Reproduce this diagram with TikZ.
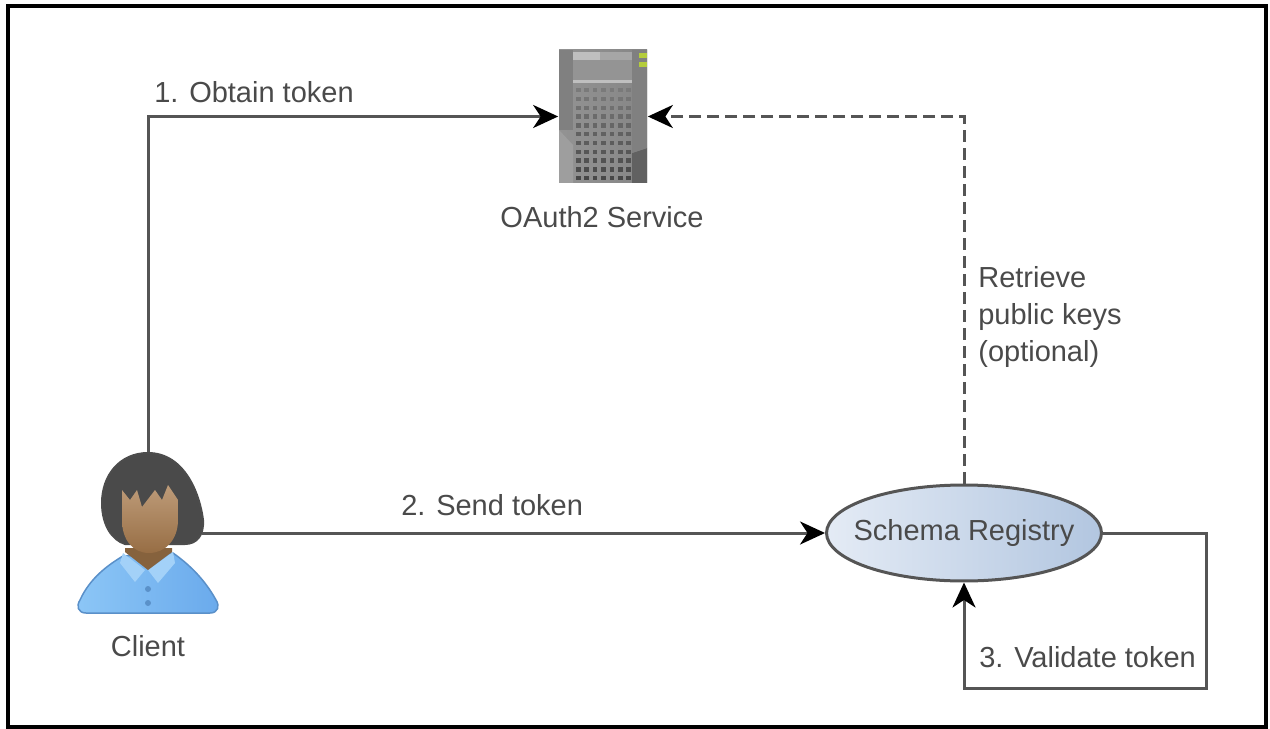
\documentclass[tikz,border=0pt]{standalone}
\usepackage{fontspec}
\setmainfont{Liberation Sans}
\usetikzlibrary{arrows.meta, positioning, shapes.geometric, calc}
\definecolor{CLine}{HTML}{555555}
\definecolor{CText}{HTML}{4A4A4A}
\definecolor{CHair}{HTML}{4A4A4A}
\definecolor{CSkin}{HTML}{A87A4C}
\definecolor{CShirtLight}{HTML}{8CC6F6}
\definecolor{CShirtDark}{HTML}{6AAAEC}
\definecolor{CRegLeft}{HTML}{E4EBF5}
\definecolor{CRegRight}{HTML}{B2C6E0}
\definecolor{CLed}{HTML}{B4CC3C}
\tikzset{
    flatlabel/.style={
        font=\fontsize{16.5}{21}\selectfont,
        text=CText,
        inner sep=0pt
    },
    flatarrow/.style={
        -{Stealth[length=0.5cm, width=0.46cm, inset=0.15cm, color=black]},
        draw=CLine,
        line width=0.06cm
    },
    iconbox/.style={
        rectangle,
        inner sep=0pt
    },
    registry/.style={
        ellipse,
        draw=CLine,
        line width=0.06cm,
        minimum width=5.5cm,
        minimum height=1.92cm,
        inner sep=0pt,
        left color=CRegLeft,
        right color=CRegRight
    }
}
\begin{document}
\begin{tikzpicture}[x=0.02cm, y=-0.02cm]
    \useasboundingbox (0,0) rectangle (1270,729);

    % Frame
    \draw[black, line width=0.09cm] (8,6) rectangle (1266,727);

    % OAuth2 server icon
    \shade[left color=gray!85, right color=gray!95] (559,50) rectangle (647,183);
    \fill[black!50] (559,50) rectangle (573,130);
    \fill[black!38] (559,130) -- (573,145) -- (573,183) -- (559,183) -- cycle;
    \fill[black!25] (573,52) rectangle (600,60);
    \fill[black!35] (600,52) rectangle (632,60);
    \fill[black!42] (573,60) rectangle (632,80);
    \fill[black!62] (632,153) -- (647,148) -- (647,183) -- (632,183) -- cycle;
    \fill[black!50] (632,50) -- (647,50) -- (647,148) -- (632,153) -- cycle;
    \fill[black!25] (573,80) rectangle (632,83);
    \foreach \row in {0,...,10} {
        \pgfmathtruncatemacro{\dotshade}{52+2*\row}
        \foreach \col in {0,...,6} {
            \fill[black!\dotshade] ({578+\col*8.4-2},{90+\row*8.8-2}) rectangle +(4.5,4.5);
        }
    }
    \fill[CLed] (639,53) rectangle (647,58);
    \fill[CLed] (639,62) rectangle (647,67);
    \node[iconbox, minimum width=1.78cm, minimum height=2.66cm] (service) at (603,116.5) {};
    \node[flatlabel] (servicelabel) at (602,217) {OAuth2 Service};

    % Client person icon
    \shade[left color=CShirtLight, right color=CShirtDark, draw=CShirtDark!85!black, line width=0.03cm, line join=round]
        (86,613) .. controls (78,613) and (76,606) .. (80,600) .. controls (90,578) and (108,565) .. (123,556)
        -- (173,553) .. controls (190,565) and (205,580) .. (216,600) .. controls (220,606) and (218,613) .. (210,613) -- cycle;
    \fill[CShirtLight!80!white] (123,553) -- (120,563) -- (135,582) -- (145,570) -- cycle;
    \fill[CShirtLight!80!white] (173,552) -- (175,563) -- (158,583) -- (148,570) -- cycle;
    \fill[CSkin!80!black] (125,548) -- (172,548) -- (172,552) -- (148,570) -- (125,552) -- cycle;
    \fill[CShirtDark!85!black] (148,589) circle (3);
    \fill[CShirtDark!85!black] (148,603) circle (3);
    \fill[CHair, draw=black!70, line width=0.04cm]
        (148,453) .. controls (120,453) and (102,475) .. (102,503) .. controls (102,525) and (112,540) .. (125,544)
        -- (185,544) .. controls (197,544) and (204,535) .. (203,520) .. controls (200,495) and (185,453) .. (148,453) -- cycle;
    \shade[top color=CSkin!75!white, bottom color=CSkin!90!black]
        (122,490) -- (130,500) -- (137,490) -- (142,507) -- (155,490) -- (162,500) -- (168,485) -- (178,500)
        -- (178,520) .. controls (178,540) and (165,553) .. (149,553) .. controls (133,553) and (122,540) .. (122,520) -- cycle;
    \node[iconbox, minimum width=2.16cm, minimum height=3.24cm] (client) at (148,533) {};
    \node[flatlabel] (clientlabel) at (148,646) {Client};

    % Schema registry
    \node[registry] (schema) at (964,533) {};
    \node[flatlabel] (schemalabel) at (schema.center) {Schema Registry};

    % Helper points
    \coordinate (obtaincorner) at (client.north |- service.west);
    \coordinate (keyscorner) at (schema.north |- service.east);
    \coordinate (loopright) at (1206,533);
    \coordinate (loopbottom) at (1206,688);
    \coordinate (loopleft) at (964,688);

    % Connectors
    \draw[flatarrow] (client.north) -- (obtaincorner) -- (service.west);
    \draw[flatarrow] (client.east) -- (schema.west);
    \draw[flatarrow, dash pattern=on 0.24cm off 0.12cm] (schema.north) -- (keyscorner) -- (service.east);
    \draw[flatarrow] (schema.east) -- (loopright) -- (loopbottom) -- (loopleft) -- (schema.south);

    % Connector labels
    \node[flatlabel, anchor=west] (obtainlabel) at (154,92) {1. Obtain token};
    \node[flatlabel, anchor=west] (sendlabel) at (401,505) {2. Send token};
    \node[flatlabel, anchor=west, align=left] (keyslabel) at (978,317) {Retrieve\\public keys\\(optional)};
    \node[flatlabel, anchor=west] (validatelabel) at (979,657) {3. Validate token};
\end{tikzpicture}
\end{document}
